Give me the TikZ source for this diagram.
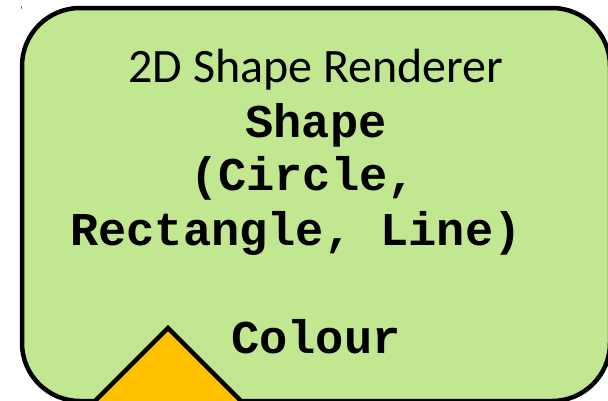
\documentclass[tikz,border=0pt]{standalone}
\usepackage{fontspec}
\setmainfont{Carlito}
\newfontfamily\codefont{Liberation Mono}
\usepackage{xcolor}
\usetikzlibrary{positioning}

\definecolor{boxgreen}{RGB}{194,231,145}
\definecolor{warnorange}{RGB}{255,192,0}

\begin{document}
\begin{tikzpicture}[
    x=1pt, y=-1pt,
    title/.style={inner sep=0pt, anchor=base, font=\fontsize{48}{54}\selectfont},
    code/.style={inner sep=0pt, anchor=base, font=\codefont\bfseries\fontsize{47}{54}\selectfont},
    outline/.style={draw=black, line width=4.5pt, line join=miter}
]
    \useasboundingbox (0,0) rectangle (608,400);
    \clip (0,0) rectangle (608,400);

    % panel
    \draw[outline, fill=boxgreen, rounded corners=58pt] (22,8) rectangle (610,401);
    \draw[gray, line width=1pt] (21.5,6) -- (21.5,9);

    \node[title] (head) at (316,82) {2D Shape Renderer};
    \node[code] (shape) at (316,137) {Shape};
    \node[code] (circ) at (303,190) {(Circle,};
    \node[code] (rect) at (296,245) {Rectangle, Line)};
    \node[code] (col) at (316,353) {Colour};

    % warning sign
    \draw[outline, fill=warnorange] (168,328) -- (264,424) -- (72,424) -- cycle;
\end{tikzpicture}
\end{document}
